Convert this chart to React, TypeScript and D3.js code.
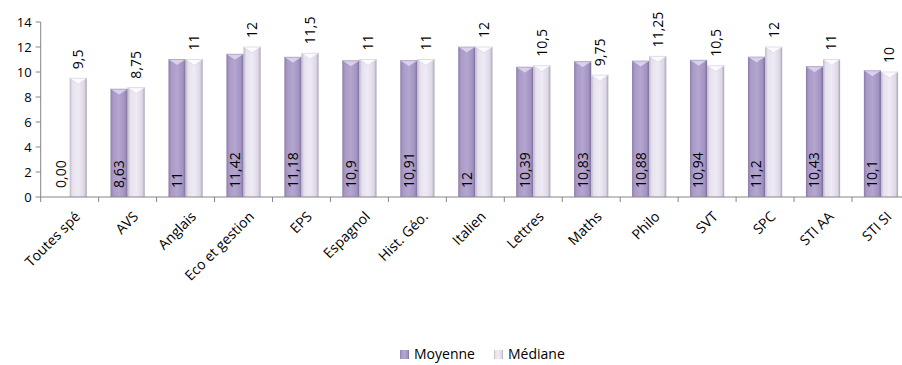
import React from "react";
import * as d3 from "d3";

const categories = [
  "Toutes spé", "AVS", "Anglais", "Eco et gestion", "EPS", "Espagnol", "Hist. Géo.",
  "Italien", "Lettres", "Maths", "Philo", "SVT", "SPC", "STI AA", "STI SI",
];
const moyenne = [0, 8.63, 11, 11.42, 11.18, 10.9, 10.91, 12, 10.39, 10.83, 10.88, 10.94, 11.2, 10.43, 10.1];
const mediane = [9.5, 8.75, 11, 12, 11.5, 11, 11, 12, 10.5, 9.75, 11.25, 10.5, 12, 11, 10];
const seriesNames = ["Moyenne", "Médiane"];
const yTicks = [0, 2, 4, 6, 8, 10, 12, 14];

const W = 902;
const H = 365;
const FONT = "'Open Sans', sans-serif";

const fmt = (v: number) => (v === 0 ? "0,00" : String(v).replace(".", ","));

export default function App() {
  const left = 40.7;
  const step = 57.95;
  const x = d3
    .scaleBand<string>()
    .domain(categories)
    .range([left, left + step * categories.length])
    .paddingInner(0.41)
    .paddingOuter(0.205);
  const xs = d3.scaleBand<string>().domain(seriesNames).range([0, x.bandwidth()]);
  const y = d3.scaleLinear().domain([0, 14]).range([197, 22]);
  const y0 = y(0);

  const series = [
    { name: "Moyenne", values: moyenne, grad: "gMoy", cap: "#d9d0ea", capEdge: "#9d8fbd" },
    { name: "Médiane", values: mediane, grad: "gMed", cap: "#fbfaff", capEdge: "#d2ccdc" },
  ];

  const bandEdges = categories.map((c) => (x(c) as number) - (x.step() * 0.41) / 2);

  return (
    <svg width={W} height={H} style={{ display: "block", position: "absolute", left: 0, top: 0 }}>
      <defs>
        <linearGradient id="gMoy" x1="0" x2="1" y1="0" y2="0">
          <stop offset="0" stopColor="#8a7aa8" />
          <stop offset="0.15" stopColor="#a999c6" />
          <stop offset="0.5" stopColor="#b4a6d0" />
          <stop offset="0.85" stopColor="#a192c0" />
          <stop offset="1" stopColor="#7b6c97" />
        </linearGradient>
        <linearGradient id="gMed" x1="0" x2="1" y1="0" y2="0">
          <stop offset="0" stopColor="#bdb6c9" />
          <stop offset="0.15" stopColor="#e6e1ee" />
          <stop offset="0.5" stopColor="#efebf5" />
          <stop offset="0.85" stopColor="#ddd7e6" />
          <stop offset="1" stopColor="#aaa3b5" />
        </linearGradient>
      </defs>
      <rect width={W} height={H} fill="#fff" />

      {/* y axis */}
      <line x1={left} x2={left} y1={y(14)} y2={y0} stroke="#868686" />
      {yTicks.map((t) => (
        <g key={t}>
          <line x1={left - 5} x2={left} y1={y(t)} y2={y(t)} stroke="#868686" />
          <text x={left - 9} y={y(t)} dy="0.35em" textAnchor="end" fontFamily={FONT} fontSize={13} fill="#000">
            {t}
          </text>
        </g>
      ))}

      {/* bars */}
      {series.map((s) =>
        categories.map((c, i) => {
          const v = s.values[i];
          if (v <= 0) return null;
          const bx = (x(c) as number) + (xs(s.name) as number);
          const bw = xs.bandwidth();
          const by = y(v);
          return (
            <g key={s.name + c}>
              <rect x={bx} y={by} width={bw} height={y0 - by} fill={`url(#${s.grad})`} />
              <polygon
                points={`${bx},${by} ${bx + bw},${by} ${bx + bw / 2},${by + 6}`}
                fill={s.cap}
                stroke={s.capEdge}
                strokeWidth={0.6}
              />
            </g>
          );
        })
      )}

      {/* x axis */}
      <line x1={left} x2={W} y1={y0} y2={y0} stroke="#868686" />
      {bandEdges.map((bx, i) => (
        <line key={i} x1={bx} x2={bx} y1={y0} y2={y0 + 5} stroke="#868686" />
      ))}
      {categories.map((c) => {
        const cx = (x(c) as number) + x.bandwidth() / 2;
        return (
          <text
            key={c}
            transform={`translate(${cx + 8},${y0 + 17}) rotate(-45)`}
            textAnchor="end"
            dy="0.35em"
            fontFamily={FONT}
            fontSize={14}
            fill="#000"
          >
            {c}
          </text>
        );
      })}

      {/* data labels */}
      {categories.map((c, i) => {
        const bw = xs.bandwidth();
        const mx = (x(c) as number) + (xs("Moyenne") as number) + bw / 2;
        const dx = (x(c) as number) + (xs("Médiane") as number) + bw / 2;
        return (
          <g key={"lab" + c}>
            <text
              transform={`translate(${mx},${y0 - 9}) rotate(-90)`}
              dy="0.35em"
              textAnchor="start"
              fontFamily={FONT}
              fontSize={14}
              fill="#000"
            >
              {fmt(moyenne[i])}
            </text>
            <text
              transform={`translate(${dx},${y(mediane[i]) - 9}) rotate(-90)`}
              dy="0.35em"
              textAnchor="start"
              fontFamily={FONT}
              fontSize={14}
              fill="#000"
            >
              {fmt(mediane[i])}
            </text>
          </g>
        );
      })}

      {/* legend */}
      <rect x={400} y={350} width={9} height={9} fill="url(#gMoy)" />
      <text x={414} y={359} fontFamily={FONT} fontSize={14} fill="#000">Moyenne</text>
      <rect x={494} y={350} width={9} height={9} fill="url(#gMed)" />
      <text x={508} y={359} fontFamily={FONT} fontSize={14} fill="#000">Médiane</text>
    </svg>
  );
}
